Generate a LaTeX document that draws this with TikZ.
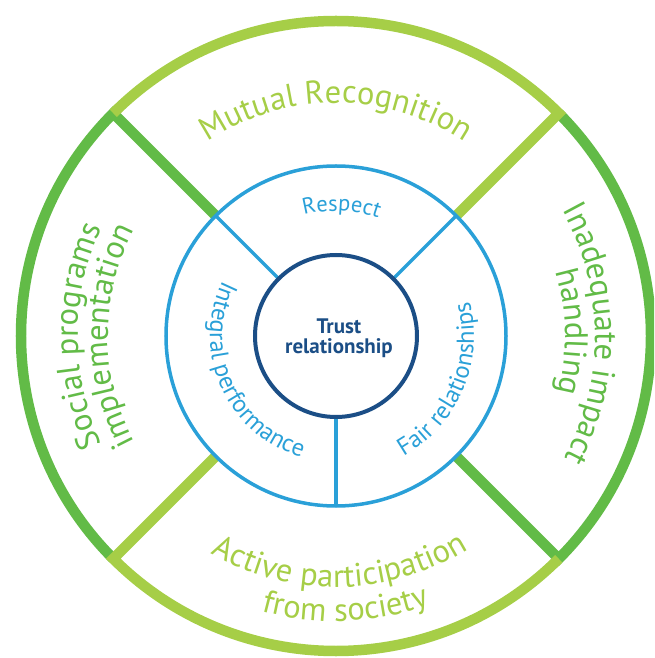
\documentclass[tikz,border=0pt]{standalone}
\usepackage{fontspec}
\setmainfont{PT Sans}
\usetikzlibrary{decorations.text}
\definecolor{lgreen}{HTML}{A6CE47}
\definecolor{dgreen}{HTML}{62BB47}
\definecolor{ringblue}{HTML}{2AA0D8}
\definecolor{darkblue}{HTML}{1B4E86}
\newcommand\bigringfont{\fontsize{32.5}{32}\selectfont}
\newcommand\respectfont{\fontsize{22.5}{22}\selectfont}
\newcommand\smallringfont{\fontsize{24.5}{24}\selectfont}
\begin{document}
\begin{tikzpicture}[x=1pt,y=1pt,
  sector/.style={line width=10.5pt, miter limit=10},
  bluering/.style={ringblue, line width=3.5pt},
  curvedtext/.style={decorate, decoration={text along path, text align=center, text={#1}}}
]
\useasboundingbox (-336,-322) rectangle (318,336);
\clip (-336,-322) rectangle (318,336);
% outer sectors
\draw[sector, dgreen] (135:170) -- (135:315) arc[start angle=135, end angle=225, radius=315];
\draw[sector, dgreen] (315:170) -- (315:315) arc[start angle=315, end angle=405, radius=315];
\draw[sector, lgreen] (225:170) -- (225:315) arc[start angle=225, end angle=315, radius=315];
\draw[sector, lgreen] (45:170) -- (45:315) arc[start angle=45, end angle=135, radius=315];
% blue ring
\draw[bluering] (0,0) circle (170);
\draw[bluering] (135:82) -- (135:170);
\draw[bluering] (45:82) -- (45:170);
\draw[bluering] (270:82) -- (270:170);
\node[circle, draw=darkblue, line width=4pt, fill=white, minimum size=162pt, inner sep=0pt] (core) at (0,0) {};
\node[font=\bfseries\fontsize{21}{20}\selectfont, text=darkblue, align=center] (trust) at (3,-2) {Trust\\relationship};
% inner ring texts
\path[curvedtext={|\respectfont|Respect}, decoration={text color=ringblue}] (150:125) arc[start angle=150, end angle=25, radius=125];
\path[curvedtext={|\smallringfont|Integral performance}, decoration={text color=ringblue}] (144:126) arc[start angle=144, end angle=264, radius=126];
\path[curvedtext={|\smallringfont|Fair relationships}, decoration={text color=ringblue}] (-83:138) arc[start angle=-83, end angle=37, radius=138];
% outer ring texts
\path[curvedtext={|\bigringfont|Mutual Recognition}, decoration={text color=lgreen}] (170:233) arc[start angle=170, end angle=10, radius=233];
\path[curvedtext={|\bigringfont|Social programs}, decoration={text color=dgreen}] (250:258) arc[start angle=250, end angle=110, radius=258];
\path[curvedtext={|\bigringfont|implementation}, decoration={text color=dgreen}] (250:228) arc[start angle=250, end angle=110, radius=228];
\path[curvedtext={|\bigringfont|Inadequate impact}, decoration={text color=dgreen}] (70:259) arc[start angle=70, end angle=-69, radius=259];
\path[curvedtext={|\bigringfont|handling}, decoration={text color=dgreen}] (70:229) arc[start angle=70, end angle=-68, radius=229];
\path[curvedtext={|\bigringfont|Active participation}, decoration={text color=lgreen}] (200:251) arc[start angle=200, end angle=342, radius=251];
\path[curvedtext={|\bigringfont|from society}, decoration={text color=lgreen}] (200:285) arc[start angle=200, end angle=344, radius=285];
\end{tikzpicture}
\end{document}
